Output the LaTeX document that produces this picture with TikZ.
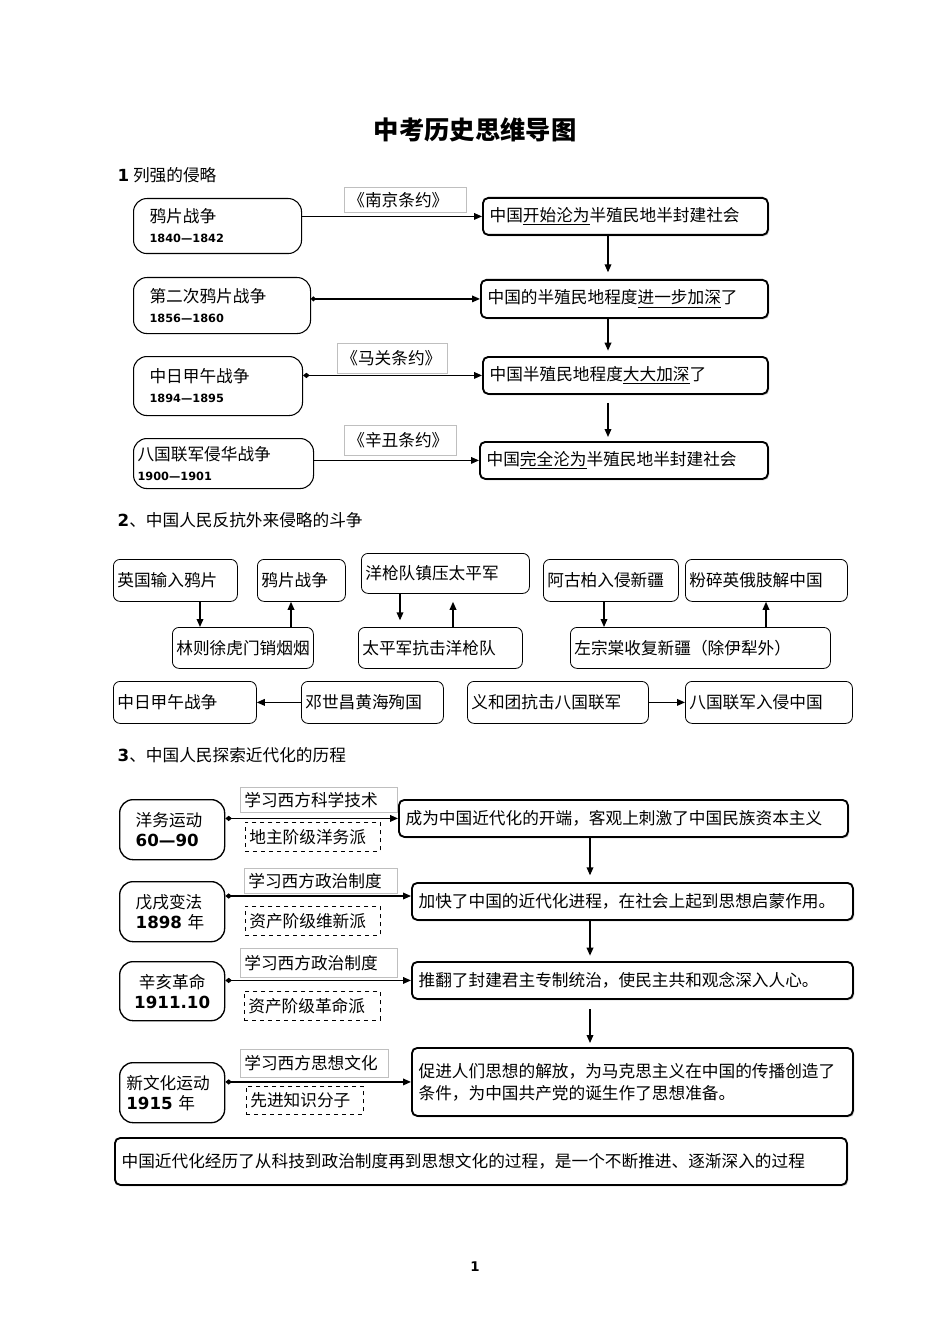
\documentclass[tikz,border=0pt]{standalone}
\usepackage{fontspec}
\usetikzlibrary{arrows.meta,shadows}
\setmainfont{Noto Sans CJK SC}
\newfontfamily\num{DejaVu Sans}
\newcommand{\yr}[1]{{\num\bfseries\fontsize{8.5}{16}\selectfont #1}}
\newcommand{\yrb}[1]{{\num\bfseries #1}}

\begin{document}
\begin{tikzpicture}[x=0.75pt,y=-0.75pt]
\tikzstyle{every node}=[font=\fontsize{12.5}{15}\selectfont, inner ysep=0pt, align=left]
\tikzstyle{wd}=[inner xsep=3pt, text width=#1*0.75pt-6pt]
\tikzstyle{wdr}=[inner xsep=5pt, text width=#1*0.75pt-10pt]
\tikzstyle{wdi}=[inner xsep=12pt, text width=#1*0.75pt-24pt]
\tikzstyle{ht}=[minimum height=#1*0.75pt]
\tikzstyle{lbox}=[draw, line width=0.8pt, rounded corners=10pt, anchor=north west]
\tikzstyle{rbox}=[draw, line width=1.4pt, rounded corners=4pt, anchor=north west, fill=white, drop shadow={shadow xshift=1pt, shadow yshift=-1pt, opacity=0.35}]
\tikzstyle{sbox}=[draw, line width=0.6pt, rounded corners=5pt, anchor=north west]
\tikzstyle{tag}=[draw=black!25, line width=0.5pt, anchor=north west]
\tikzstyle{dtag}=[draw, dashed, line width=0.6pt, anchor=north west]
\tikzstyle{arr}=[-{Triangle[length=6pt,width=5pt]}, line width=1pt]
\tikzstyle{darr}=[{Diamond[length=5pt,width=4pt]}-{Triangle[length=6pt,width=5pt]}, line width=1pt]

\fill[white] (0,0) rectangle (950,1344);
\useasboundingbox (0,0) rectangle (950,1344);

\node[font=\fontsize{19}{22}\selectfont\bfseries, align=center] (title) at (475,130) {中考历史思维导图};

% 1
\node[anchor=west] (h1) at (113,175) {{\num\bfseries 1} 列强的侵略};
\node[lbox, wdi=168, ht=55] (yp) at (133,198) {鸦片战争\\\yr{1840—1842}};
\node[lbox, wdi=177, ht=56] (ey) at (133,277) {第二次鸦片战争\\\yr{1856—1860}};
\node[lbox, wdi=169, ht=59] (jw) at (133,356) {中日甲午战争\\\yr{1894—1895}};
\node[lbox, wd=180, ht=50] (bg) at (133,438) {八国联军侵华战争\\\yr{1900—1901}};
\node[rbox, wdr=285, ht=37] (r1) at (482,197) {中国\underline{开始沦为}半殖民地半封建社会};
\node[rbox, wdr=287, ht=38] (r2) at (480,279) {中国的半殖民地程度\underline{进一步加深}了};
\node[rbox, wdr=285, ht=37] (r3) at (482,356) {中国半殖民地程度\underline{大大加深}了};
\node[rbox, wdr=288, ht=37] (r4) at (479,441) {中国\underline{完全沦为}半殖民地半封建社会};
\node[tag, wd=122, ht=25] (nj) at (344,187) {《南京条约》};
\node[tag, wd=110, ht=30] (mg) at (337,343) {《马关条约》};
\node[tag, wd=112, ht=30] (xc) at (344,425) {《辛丑条约》};
\draw[arr] (yp.east |- r1.west) -- (r1.west);
\draw[{Circle[length=3.5pt]}-{Triangle[length=6pt,width=5pt]}, line width=1pt] (ey.east |- r2.west) -- (r2.west);
\draw[darr] (jw.east |- r3.west) -- (r3.west);
\draw[arr] (bg.east |- r4.west) -- (r4.west);
\draw[arr, shorten >=5pt] (r1.south -| 608,0) -- (r2.north -| 608,0);
\draw[arr, shorten >=4pt] (r2.south -| 608,0) -- (r3.north -| 608,0);
\draw[arr, shorten <=6pt, shorten >=3pt] (r3.south -| 608,0) -- (r4.north -| 608,0);

% 2
\node[anchor=west] (h2) at (113,520) {{\num\bfseries 2}、中国人民反抗外来侵略的斗争};
\node[sbox, wd=124, ht=42] (s1) at (113,559) {英国输入鸦片};
\node[sbox, wd=88, ht=42] (s2) at (257,559) {鸦片战争};
\node[sbox, wd=141, ht=41] (s3) at (172,627) {林则徐虎门销烟烟};
\node[sbox, wd=168, ht=40] (s4) at (361,553) {洋枪队镇压太平军};
\node[sbox, wd=164, ht=41] (s5) at (358,627) {太平军抗击洋枪队};
\node[sbox, wd=135, ht=42] (s6) at (543,559) {阿古柏入侵新疆};
\node[sbox, wd=162, ht=42] (s7) at (685,559) {粉碎英俄肢解中国};
\node[sbox, wd=260, ht=41] (s8) at (570,627) {左宗棠收复新疆（除伊犁外）};
\node[sbox, wd=143, ht=42] (s9) at (113,681) {中日甲午战争};
\node[sbox, wd=142, ht=42] (s10) at (301,681) {邓世昌黄海殉国};
\node[sbox, wd=181, ht=42] (s11) at (467,681) {义和团抗击八国联军};
\node[sbox, wd=167, ht=42] (s12) at (685,681) {八国联军入侵中国};
\draw[arr] (s1.south -| 200,0) -- (s3.north -| 200,0);
\draw[arr] (s3.north -| 291,0) -- (s2.south -| 291,0);
\draw[arr, shorten >=5pt] (s4.south -| 400,0) -- (s5.north -| 400,0);
\draw[arr, shorten >=6pt] (s5.north -| 453,0) -- (s4.south -| 453,0);
\draw[arr] (s6.south -| 604,0) -- (s8.north -| 604,0);
\draw[arr] (s8.north -| 766,0) -- (s7.south -| 766,0);
\draw[arr] (s10.west) -- (s9.east);
\draw[arr] (s11.east) -- (s12.west);

% 3
\node[anchor=west] (h3) at (113,755) {{\num\bfseries 3}、中国人民探索近代化的历程};
\node[lbox, line width=1pt, wdi=105, ht=60] (t1) at (119,799) {洋务运动\\\yrb{60—90}};
\node[lbox, line width=1pt, wdi=105, ht=60] (t2) at (119,881) {戊戌变法\\\yrb{1898} 年};
\node[lbox, line width=1pt, wd=105, ht=59, align=center] (t3) at (119,961) {辛亥革命\\\yrb{1911.10}};
\node[lbox, line width=1pt, wdr=105, ht=60] (t4) at (119,1062) {新文化运动\\\yrb{1915} 年};
\node[rbox, wdr=449, ht=37] (u1) at (398,799) {成为中国近代化的开端，客观上刺激了中国民族资本主义};
\node[rbox, wdr=441, ht=37] (u2) at (411,882) {加快了中国的近代化进程，在社会上起到思想启蒙作用。};
\node[rbox, wdr=441, ht=37] (u3) at (411,961) {推翻了封建君主专制统治，使民主共和观念深入人心。};
\node[rbox, wdr=441, ht=68, font=\fontsize{12.5}{16.5}\selectfont] (u4) at (411,1047) {促进人们思想的解放，为马克思主义在中国的传播创造了\\条件，为中国共产党的诞生作了思想准备。};
\node[tag, wd=157, ht=25] (a1) at (240,787) {学习西方科学技术};
\node[dtag, wd=135, ht=29] (b1) at (245,822) {地主阶级洋务派};
\node[tag, wd=153, ht=25] (a2) at (244,868) {学习西方政治制度};
\node[dtag, wd=135, ht=29] (b2) at (245,906) {资产阶级维新派};
\node[tag, wd=157, ht=29] (a3) at (240,948) {学习西方政治制度};
\node[dtag, wd=136, ht=29] (b3) at (244,991) {资产阶级革命派};
\node[tag, wd=148, ht=28] (a4) at (240,1049) {学习西方思想文化};
\node[dtag, wd=117, ht=28] (b4) at (246,1086) {先进知识分子};
\draw[darr] (t1.east |- u1.west) -- (u1.west);
\draw[darr] (t2.east |- 0,896) -- (u2.west |- 0,896);
\draw[darr] (t3.east |- u3.west) -- (u3.west);
\draw[darr] (t4.east |- u4.west) -- (u4.west);
\draw[arr, shorten >=5pt] (u1.south -| 590,0) -- (u2.north -| 590,0);
\draw[arr, shorten >=4pt] (u2.south -| 590,0) -- (u3.north -| 590,0);
\draw[arr, shorten <=7pt, shorten >=3pt] (u3.south -| 590,0) -- (u4.north -| 590,0);
\node[rbox, wdr=732, ht=47] (sum) at (114,1137) {中国近代化经历了从科技到政治制度再到思想文化的过程，是一个不断推进、逐渐深入的过程};

\node[font=\num\bfseries\fontsize{10}{12}\selectfont] (pg) at (475,1267) {1};
\end{tikzpicture}
\end{document}
